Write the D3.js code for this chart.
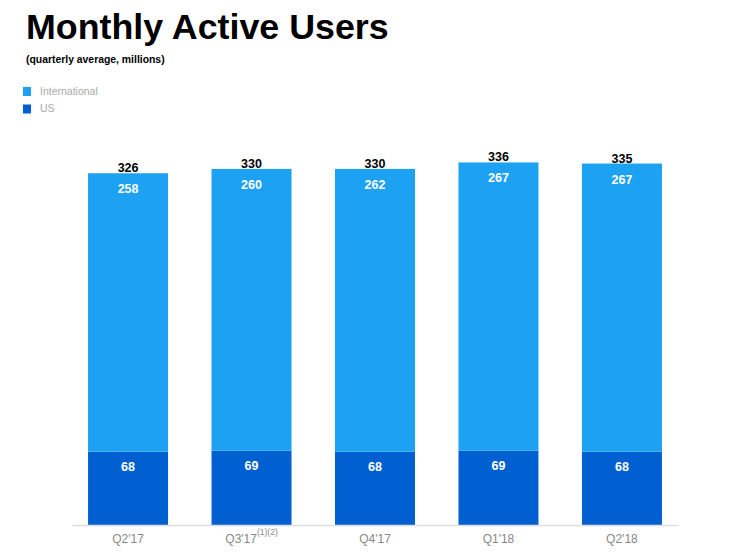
<!DOCTYPE html>
<html>
<head>
<meta charset="utf-8">
<script src="https://cdn.jsdelivr.net/npm/d3@7"></script>
<style>
html,body{margin:0;padding:0;background:#fff;}
svg{display:block;}
</style>
</head>
<body>
<svg id="chart" width="733" height="553"></svg>
<script>
const categories = ["Q2'17", "Q3'17", "Q4'17", "Q1'18", "Q2'18"];
const categorySup = ["", "(1)(2)", "", "", ""];
const international = [258, 260, 262, 267, 267];
const us = [68, 69, 68, 69, 68];
const totals = [326, 330, 330, 336, 335];
const seriesNames = ["International", "US"];

const colIntl = "#1DA1F2";
const colUS = "#0060D2";

const svg = d3.select("#chart");
const font = "'Liberation Sans', Arial, Helvetica, sans-serif";

// Title
svg.append("text").attr("x", 26).attr("y", 38.5)
  .attr("font-family", font).attr("font-weight", "bold").attr("font-size", 35.8)
  .attr("fill", "#000").text("Monthly Active Users");
svg.append("text").attr("x", 26).attr("y", 63)
  .attr("font-family", font).attr("font-weight", "bold").attr("font-size", 10.4)
  .attr("fill", "#000").text("(quarterly average, millions)");

// Legend
const legColors = [colIntl, colUS];
seriesNames.forEach((n, i) => {
  const y0 = 87 + i * 17.5;
  svg.append("rect").attr("x", 23).attr("y", y0).attr("width", 8).attr("height", 9).attr("fill", legColors[i]);
  svg.append("text").attr("x", 40).attr("y", y0 + 7.5)
    .attr("font-family", font).attr("font-size", 10.5).attr("fill", "#aaa").text(n);
});

const x = d3.scaleBand().domain(categories).range([72, 678]).paddingInner(0.352).paddingOuter(0.13);
const y = d3.scaleLinear().domain([0, 400]).range([525, 93.4]);

const data = categories.map((c, i) => ({c, sup: categorySup[i], intl: international[i], us: us[i], total: totals[i]}));

const g = svg.append("g");
// US segments
g.selectAll("rect.us").data(data).enter().append("rect")
  .attr("x", d => x(d.c)).attr("width", x.bandwidth())
  .attr("y", d => y(d.us)).attr("height", d => y(0) - y(d.us))
  .attr("fill", colUS);
// International segments
g.selectAll("rect.intl").data(data).enter().append("rect")
  .attr("x", d => x(d.c)).attr("width", x.bandwidth())
  .attr("y", d => y(d.total)).attr("height", d => y(d.us) - y(d.total))
  .attr("fill", colIntl);

// Axis line
const axis = d3.axisBottom(x).tickSize(0).tickFormat("");
const ag = svg.append("g").attr("transform", "translate(0,525)").call(axis);
ag.select(".domain").attr("stroke", "#ddd").attr("stroke-width", 1.5);

// Category labels
data.forEach(d => {
  const t = svg.append("text").attr("x", x(d.c) + x.bandwidth() / 2).attr("y", 543)
    .attr("text-anchor", "middle").attr("font-family", font).attr("font-size", 12).attr("fill", "#888");
  t.append("tspan").text(d.c);
  if (d.sup) t.append("tspan").attr("dy", -8).attr("font-size", 8.5).text(d.sup);
});

// Total labels
g.selectAll("text.total").data(data).enter().append("text")
  .attr("x", d => x(d.c) + x.bandwidth() / 2).attr("y", d => y(d.total) - 1)
  .attr("text-anchor", "middle").attr("font-family", font).attr("font-weight", "bold")
  .attr("font-size", 12.5).attr("fill", "#000").text(d => d.total);
// International labels
g.selectAll("text.intl").data(data).enter().append("text")
  .attr("x", d => x(d.c) + x.bandwidth() / 2).attr("y", d => y(d.total) + 20)
  .attr("text-anchor", "middle").attr("font-family", font).attr("font-weight", "bold")
  .attr("font-size", 12.5).attr("fill", "#fff").text(d => d.intl);
// US labels
g.selectAll("text.us").data(data).enter().append("text")
  .attr("x", d => x(d.c) + x.bandwidth() / 2).attr("y", d => y(d.us) + 19)
  .attr("text-anchor", "middle").attr("font-family", font).attr("font-weight", "bold")
  .attr("font-size", 12.5).attr("fill", "#fff").text(d => d.us);
</script>
</body>
</html>
